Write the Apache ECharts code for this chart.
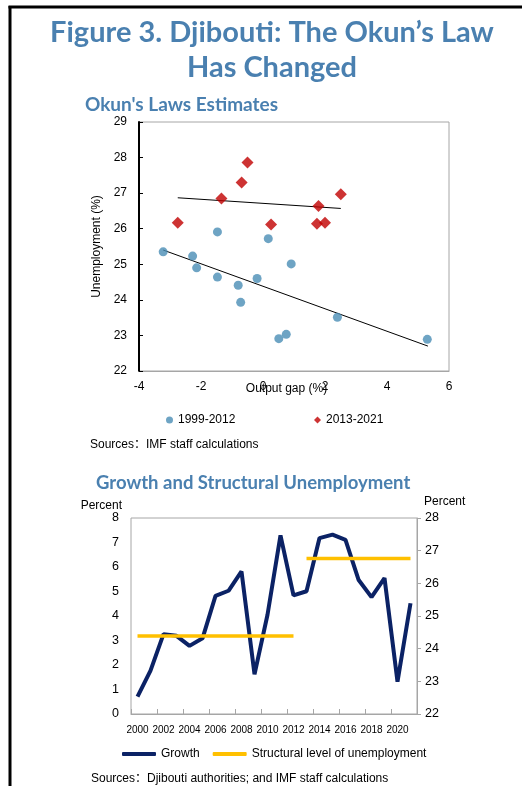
<!DOCTYPE html>
<html>
<head>
<meta charset="utf-8">
<script src="https://cdn.jsdelivr.net/npm/echarts@6/dist/echarts.min.js"></script>
<style>
html,body{margin:0;padding:0;background:#fff;}
#c{width:526px;height:786px;}
</style>
</head>
<body>
<div id="c"></div>
<script>
// ---- Scatter: Okun's law estimates ----
const gap9912 = [-3.22, -2.27, -2.14, -1.47, -1.47, -0.80, -0.72, -0.19, 0.17, 0.91, 0.51, 0.75, 2.40, 5.30];
const unemp9912 = [25.35, 25.23, 24.90, 25.91, 24.64, 24.41, 23.93, 24.60, 25.72, 25.01, 22.91, 23.03, 23.51, 22.89];
const gap1321 = [-2.75, -1.34, -0.69, -0.50, 0.26, 1.79, 1.74, 2.00, 2.51];
const unemp1321 = [26.17, 26.85, 27.30, 27.86, 26.12, 26.64, 26.14, 26.17, 26.97];
const fit9912X = [-3.22, 5.32];
const fit9912Y = [25.40, 22.70];
const fit1321X = [-2.75, 2.51];
const fit1321Y = [26.87, 26.57];

// ---- Line chart: growth and structural unemployment ----
const years = ['2000','2001','2002','2003','2004','2005','2006','2007','2008','2009','2010','2011','2012','2013','2014','2015','2016','2017','2018','2019','2020','2021'];
const growth = [0.71, 1.77, 3.26, 3.19, 2.78, 3.09, 4.82, 5.03, 5.82, 1.62, 4.05, 7.29, 4.84, 5.01, 7.18, 7.32, 7.11, 5.48, 4.77, 5.55, 1.32, 4.52];
const structuralEarly = [24.39, 24.39, 24.39, 24.39, 24.39, 24.39, 24.39, 24.39, 24.39, 24.39, 24.39, 24.39, 24.39, null, null, null, null, null, null, null, null, null];
const structuralLate = [null, null, null, null, null, null, null, null, null, null, null, null, null, 26.76, 26.76, 26.76, 26.76, 26.76, 26.76, 26.76, 26.76, 26.76];

const zip = (a, b) => a.map((v, i) => [v, b[i]]);

const TITLE_BLUE = '#4a80b0';
const ARIAL = "'Liberation Sans', Arial, sans-serif";
const ARIAL_SC = "'Liberation Sans', 'Noto Sans CJK SC', Arial, sans-serif";
const GRID_GRAY = '#a6a6a6';

const chart = echarts.init(document.getElementById('c'), null, {renderer: 'canvas'});

const option = {
  backgroundColor: '#fff',
  animation: false,
  title: [
    {text: 'Figure 3. Djibouti: The Okun\u2019s Law\nHas Changed', left: 272, top: 15, textAlign: 'center', padding: 0,
     textStyle: {fontFamily: 'Lato', fontWeight: 'bold', fontSize: 29, lineHeight: 35, color: TITLE_BLUE}},
    {text: "Okun's Laws Estimates", left: 85, top: 95, padding: 0,
     textStyle: {fontFamily: 'Lato', fontWeight: 'bold', fontSize: 19, color: TITLE_BLUE}},
    {text: 'Growth and Structural Unemployment', left: 96, top: 474, padding: 0,
     textStyle: {fontFamily: 'Lato', fontWeight: 'bold', fontSize: 18.5, color: TITLE_BLUE}},
    {text: 'Sources\uFF1AIMF staff calculations', left: 90, top: 439, padding: 0,
     textStyle: {fontFamily: ARIAL_SC, fontWeight: 'normal', fontSize: 12, color: '#000'}},
    {text: 'Sources\uFF1ADjibouti authorities; and IMF staff calculations', left: 91, top: 773, padding: 0,
     textStyle: {fontFamily: ARIAL_SC, fontWeight: 'normal', fontSize: 12, color: '#000'}}
  ],
  graphic: [
    {type: 'line', shape: {x1: 10, y1: 6, x2: 10, y2: 786}, style: {stroke: '#000', lineWidth: 3}},
    {type: 'line', shape: {x1: 8.5, y1: 7, x2: 522, y2: 7}, style: {stroke: '#000', lineWidth: 3}}
  ],
  legend: [
    {data: [{name: '1999-2012', icon: 'circle'}], left: 161, top: 409, itemWidth: 7, itemHeight: 7,
     textStyle: {fontFamily: ARIAL, fontSize: 12, color: '#000'}},
    {data: [{name: '2013-2021', icon: 'diamond'}], left: 309, top: 409, itemWidth: 7, itemHeight: 7,
     textStyle: {fontFamily: ARIAL, fontSize: 12, color: '#000'}},
    {data: ['Growth', 'Structural level of unemployment'], left: 117, top: 743, itemWidth: 34, itemHeight: 4,
     itemGap: 13, icon: 'roundRect',
     textStyle: {fontFamily: ARIAL, fontSize: 12, color: '#000'}}
  ],
  grid: [
    {left: 139, top: 122, width: 310, height: 249, show: true, borderColor: GRID_GRAY, borderWidth: 1},
    {left: 131, top: 518, width: 286, height: 196, show: true, borderColor: GRID_GRAY, borderWidth: 1}
  ],
  xAxis: [
    {type: 'value', gridIndex: 0, min: -4, max: 6, interval: 2,
     axisLine: {show: true, onZero: false, lineStyle: {color: GRID_GRAY}},
     axisTick: {show: false}, splitLine: {show: false},
     axisLabel: {margin: 10, fontFamily: ARIAL, fontSize: 12, color: '#000'},
     name: 'Output gap (%)', nameLocation: 'middle', nameGap: 12, nameMoveOverlap: false,
     nameTextStyle: {fontFamily: ARIAL, fontSize: 12, color: '#000', padding: [0, 15, 0, 0]}},
    {type: 'category', gridIndex: 1, data: years, boundaryGap: true,
     axisLine: {show: true, lineStyle: {color: GRID_GRAY}},
     axisTick: {show: true, inside: true, length: 5, lineStyle: {color: GRID_GRAY}},
     splitLine: {show: false},
     axisLabel: {interval: 1, showMinLabel: true, margin: 11, fontFamily: ARIAL, fontSize: 10, color: '#000'}}
  ],
  yAxis: [
    {type: 'value', gridIndex: 0, min: 22, max: 29, interval: 1, position: 'left',
     axisLine: {show: false}, axisTick: {show: false}, splitLine: {show: false},
     axisLabel: {margin: 12, fontFamily: ARIAL, fontSize: 12, color: '#000'},
     name: 'Unemployment (%)', nameLocation: 'middle', nameGap: 35, nameRotate: 90,
     nameTextStyle: {fontFamily: ARIAL, fontSize: 12, color: '#000'}},
    {type: 'value', gridIndex: 0, min: 22, max: 29, interval: 1, position: 'left',
     axisLine: {show: true, onZero: true, lineStyle: {color: '#000', width: 2}},
     axisTick: {show: true, inside: true, length: 4, lineStyle: {color: '#000'}},
     axisLabel: {show: false}, splitLine: {show: false}},
    {type: 'value', gridIndex: 1, min: 0, max: 8, interval: 1, position: 'left',
     axisLine: {show: false}, axisTick: {show: false}, splitLine: {show: false},
     axisLabel: {margin: 12, fontFamily: ARIAL, fontSize: 12.5, color: '#000'},
     name: 'Percent', nameLocation: 'end', nameGap: 3,
     nameTextStyle: {fontFamily: ARIAL, fontSize: 12, color: '#000', align: 'right', padding: [0, 9, 0, 0]}},
    {type: 'value', gridIndex: 1, min: 22, max: 28, interval: 1, position: 'right',
     axisLine: {show: true, lineStyle: {color: GRID_GRAY}},
     axisTick: {show: true, inside: false, length: 4, lineStyle: {color: GRID_GRAY}},
     splitLine: {show: false},
     axisLabel: {margin: 8, fontFamily: ARIAL, fontSize: 12.5, color: '#000'},
     name: 'Percent', nameLocation: 'end', nameGap: 10,
     nameTextStyle: {fontFamily: ARIAL, fontSize: 12, color: '#000', align: 'left', padding: [0, 0, 0, 7]}}
  ],
  series: [
    {name: '1999-2012', type: 'scatter', xAxisIndex: 0, yAxisIndex: 0, symbol: 'circle', symbolSize: 9,
     itemStyle: {color: '#4a8db5'}, data: zip(gap9912, unemp9912), z: 5},
    {name: '2013-2021', type: 'scatter', xAxisIndex: 0, yAxisIndex: 0, symbol: 'diamond', symbolSize: 12,
     itemStyle: {color: '#c00000'}, data: zip(gap1321, unemp1321), z: 5},
    {name: 'fit1', type: 'line', xAxisIndex: 0, yAxisIndex: 0, showSymbol: false, silent: true,
     lineStyle: {color: '#000', width: 1}, data: zip(fit9912X, fit9912Y), z: 4},
    {name: 'fit2', type: 'line', xAxisIndex: 0, yAxisIndex: 0, showSymbol: false, silent: true,
     lineStyle: {color: '#000', width: 1}, data: zip(fit1321X, fit1321Y), z: 4},
    {name: 'Growth', type: 'line', xAxisIndex: 1, yAxisIndex: 2, showSymbol: false,
     itemStyle: {color: '#0b2265'}, lineStyle: {color: '#0b2265', width: 4}, data: growth, z: 3},
    {name: 'Structural level of unemployment', type: 'line', xAxisIndex: 1, yAxisIndex: 3, showSymbol: false,
     itemStyle: {color: '#ffc000'}, lineStyle: {color: '#ffc000', width: 3.5}, data: structuralEarly, connectNulls: false, z: 4},
    {name: 'Structural level of unemployment', type: 'line', xAxisIndex: 1, yAxisIndex: 3, showSymbol: false,
     itemStyle: {color: '#ffc000'}, lineStyle: {color: '#ffc000', width: 3.5}, data: structuralLate, connectNulls: false, z: 4}
  ]
};
chart.setOption(option);
</script>
</body>
</html>
